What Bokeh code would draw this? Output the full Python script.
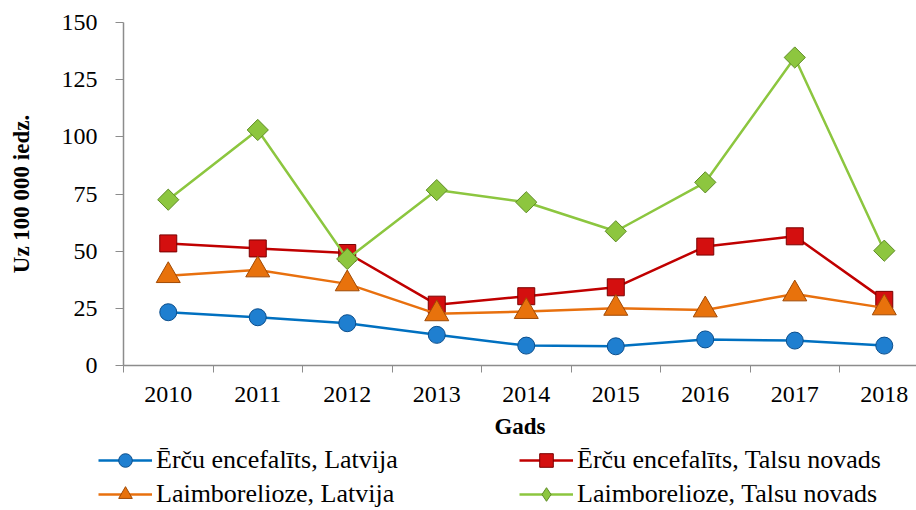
import math
from bokeh.plotting import figure
from bokeh.layouts import column
from bokeh.models import Range1d, FixedTicker, Legend, LegendItem
from bokeh.embed import file_html
from bokeh.resources import INLINE

years = ["2010", "2011", "2012", "2013", "2014", "2015", "2016", "2017", "2018"]
tbe_latvija = [23.3, 21.1, 18.5, 13.4, 8.7, 8.4, 11.4, 10.9, 8.7]
tbe_talsi = [53.4, 51.2, 49.2, 26.6, 30.3, 34.2, 52.0, 56.5, 28.7]
lyme_latvija = [39.3, 41.8, 35.7, 22.6, 23.6, 25.0, 24.3, 31.3, 25.2]
lyme_talsi = [72.5, 103.0, 46.6, 76.7, 71.4, 58.7, 80.1, 134.7, 50.2]
y_ticks = [0, 25, 50, 75, 100, 125, 150]

names = ["Ērču encefalīts, Latvija", "Laimborelioze, Latvija",
         "Ērču encefalīts, Talsu novads", "Laimborelioze, Talsu novads"]

FONT = "Liberation Serif"
xs = list(range(len(years)))

p = figure(frame_width=793, frame_height=343, output_backend="svg", toolbar_location=None,
           x_range=Range1d(-0.5, 8.36), y_range=Range1d(0, 150),
           min_border_left=123, min_border_top=22, min_border_right=0, min_border_bottom=76)
p.outline_line_color = None
p.xgrid.visible = False
p.ygrid.visible = False

series = [
    (tbe_latvija, "#0070C0", "#1F7FD0", "#0B4E8C", "circle", 17, 0.0),
    (lyme_latvija, "#E8700E", "#E8720C", "#A04A05", "triangle", 24, 0.0),
    (tbe_talsi, "#C00000", "#D40F0F", "#7A0000", "square", 17, 0.0),
    (lyme_talsi, "#8CC63F", "#8DC63F", "#5E8C25", "square", 15, math.pi / 4),
]
legend_markers = ["circle", "triangle", "square", "diamond"]

draw_order = [0, 2, 1, 3]
for i in draw_order:
    vals, lc, fc, ec, marker, size, ang = series[i]
    p.line(xs, vals, line_color=lc, line_width=2.5)
    p.scatter(xs, vals, marker=marker, size=size, angle=ang,
              fill_color=fc, line_color=ec, line_width=1)

# axes
p.yaxis.ticker = FixedTicker(ticks=y_ticks)
p.yaxis.axis_line_color = "#8C8C8C"
p.yaxis.axis_line_width = 1.5
p.yaxis.major_tick_line_color = "#8C8C8C"
p.yaxis.major_tick_out = 8
p.yaxis.major_tick_in = 0
p.yaxis.minor_tick_line_color = None
p.yaxis.major_label_standoff = 18
p.yaxis.major_label_text_font = FONT
p.yaxis.major_label_text_font_size = "24px"
p.yaxis.major_label_text_color = "black"
p.yaxis.axis_label = "Uz 100 000 iedz."
p.yaxis.axis_label_text_font = FONT
p.yaxis.axis_label_text_font_style = "bold"
p.yaxis.axis_label_text_font_size = "23px"
p.yaxis.axis_label_text_color = "black"
p.yaxis.axis_label_standoff = 25

p.xaxis.ticker = FixedTicker(ticks=xs, minor_ticks=[x - 0.5 for x in range(len(years) + 1)])
p.xaxis.major_label_overrides = {i: y for i, y in enumerate(years)}
p.xaxis.axis_line_color = "#8C8C8C"
p.xaxis.axis_line_width = 1.5
p.xaxis.major_tick_line_color = None
p.xaxis.minor_tick_line_color = "#8C8C8C"
p.xaxis.minor_tick_out = 7
p.xaxis.minor_tick_in = 0
p.xaxis.major_tick_out = 7
p.xaxis.major_label_standoff = 14
p.xaxis.major_label_text_font = FONT
p.xaxis.major_label_text_font_size = "24px"
p.xaxis.major_label_text_color = "black"
p.xaxis.axis_label = "Gads"
p.xaxis.axis_label_text_font = FONT
p.xaxis.axis_label_text_font_style = "bold"
p.xaxis.axis_label_text_font_size = "23px"
p.xaxis.axis_label_text_color = "black"
p.xaxis.axis_label_standoff = 9

# legend strip below the chart
lg = figure(frame_width=916, frame_height=69, output_backend="svg", toolbar_location=None,
            x_range=Range1d(0, 1), y_range=Range1d(0, 1),
            x_axis_location=None, y_axis_location=None,
            min_border_left=0, min_border_right=0, min_border_top=0, min_border_bottom=0)
lg.outline_line_color = None
lg.xgrid.visible = False
lg.ygrid.visible = False

items = []
for i in range(4):
    vals, lc, fc, ec, marker, size, ang = series[i]
    rl = lg.line([-100], [-100], line_color=lc, line_width=2.5)
    rs = lg.scatter([-100], [-100], marker=legend_markers[i], size=size,
                    fill_color=fc, line_color=ec, line_width=1)
    items.append(LegendItem(label=names[i], renderers=[rl, rs]))

legend = Legend(items=items, location=(98, -1), orientation="vertical", ncols=2,
                glyph_width=54, glyph_height=34, label_standoff=4, label_width=363,
                label_height=24, spacing=0, padding=0, margin=0,
                label_text_font=FONT, label_text_font_size="26px", label_text_color="black",
                border_line_color=None, background_fill_alpha=0)
lg.add_layout(legend, "center")

layout = column(p, lg, spacing=0)
open("out.html", "w").write(file_html(layout, INLINE))
